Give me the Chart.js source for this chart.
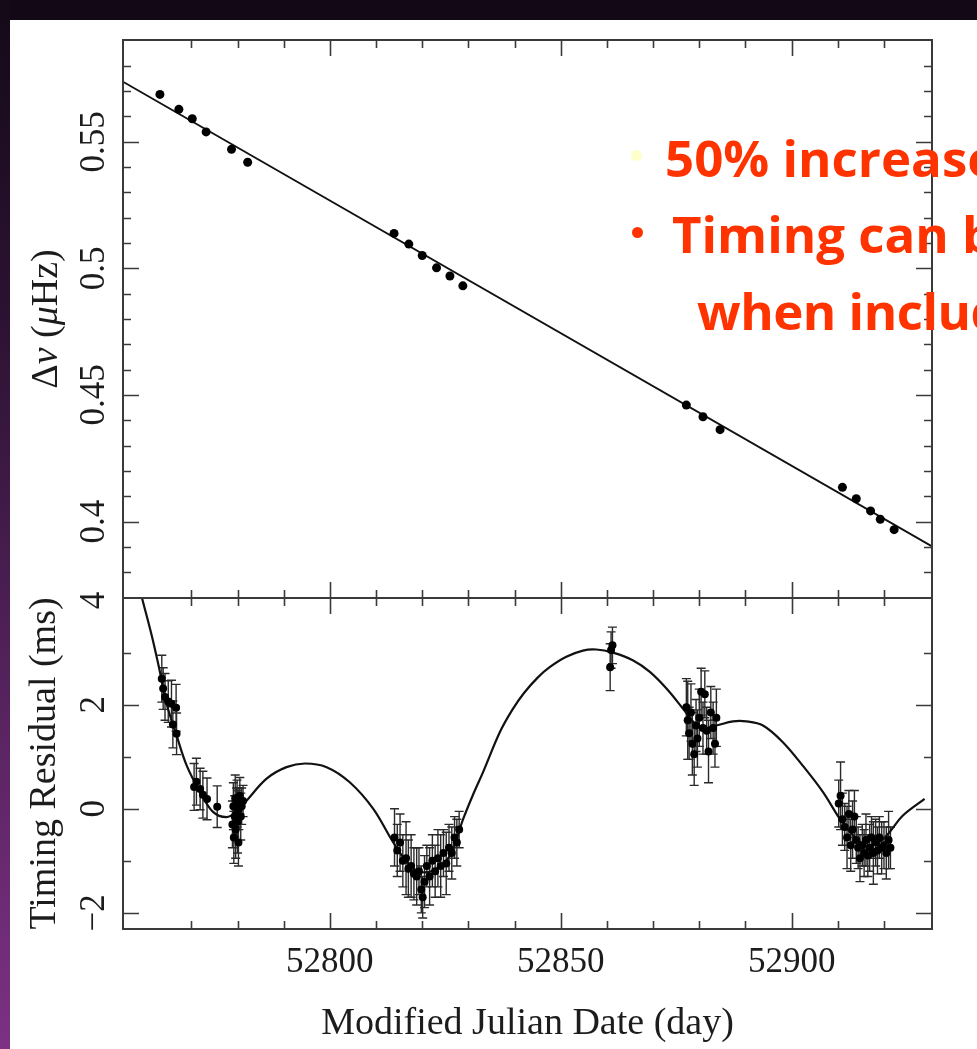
<!DOCTYPE html>
<html>
<head>
<meta charset="utf-8">
<script src="https://cdn.jsdelivr.net/npm/chart.js@4.4.1/dist/chart.umd.min.js"></script>
<style>
html,body{margin:0;padding:0;background:#130916;width:977px;height:1049px;overflow:hidden;}
#strip{position:absolute;left:0;top:0;width:10px;height:1049px;background:linear-gradient(#140a18 0%,#2c1232 30%,#4c1f54 58%,#7c3183 100%);}
#paper{position:absolute;left:10px;top:20px;width:967px;height:1029px;background:#ffffff;}
.cw{position:absolute;left:0;top:0;width:977px;height:1049px;}
.note{position:absolute;font-family:'Open Sans',sans-serif;font-weight:700;font-size:51px;color:#ff3300;white-space:nowrap;line-height:51px;}
.dot{position:absolute;width:11px;height:11px;border-radius:50%;}
</style>
</head>
<body>
<div id="strip"></div>
<div id="paper"></div>
<div class="cw"><canvas id="bottomChart"></canvas></div>
<div class="cw"><canvas id="topChart"></canvas></div>
<div class="dot" style="left:631px;top:150px;background:#ffffcc;"></div>
<div class="note" style="left:665px;top:132px;">50% increase</div>
<div class="dot" style="left:632px;top:227px;background:#ff3300;"></div>
<div class="note" style="left:672px;top:208px;">Timing can be</div>
<div class="note" style="left:697px;top:285px;letter-spacing:-0.5px;">when including</div>
<script>
// ---------- data ----------
const dnuMJD = [52763.2, 52767.3, 52770.2, 52773.2, 52778.7, 52782.2, 52813.9, 52817.1, 52820.0, 52823.1, 52826.0, 52828.8, 52877.2, 52880.8, 52884.5, 52911.0, 52914.0, 52917.1, 52919.2, 52922.2];
const dnuValues = [0.5687, 0.5628, 0.5591, 0.5539, 0.5470, 0.5419, 0.5138, 0.5096, 0.5051, 0.5002, 0.4970, 0.4931, 0.4460, 0.4414, 0.4363, 0.4135, 0.4090, 0.4042, 0.4009, 0.3968];
const fitMJD = [52755.2, 52930.4];
const fitValues = [0.5737, 0.3902];

const resMJD = [
  52763.6, 52763.9, 52764.3, 52765.0, 52765.7, 52766.7, 52766.0, 52766.8,
  52770.6, 52771.1, 52771.9, 52772.5, 52773.4, 52775.6,
  52778.9, 52779.1, 52779.2, 52779.4, 52779.5, 52779.6, 52779.8, 52779.9, 52780.0, 52780.2, 52780.3, 52780.5, 52780.7, 52780.9, 52781.2,
  52814.0, 52814.6, 52815.2, 52815.8, 52816.5, 52817.0, 52817.6, 52818.2, 52818.8, 52819.3, 52819.8, 52820.1, 52820.5, 52821.0, 52821.6, 52822.2, 52822.8, 52823.4, 52824.0, 52824.6, 52825.2, 52825.8, 52826.4, 52827.0, 52827.5, 52828.0,
  52860.7, 52860.9, 52861.2,
  52877.2, 52877.5, 52877.8, 52878.2, 52878.5, 52878.9, 52879.3, 52879.6, 52880.0, 52880.4, 52880.8, 52881.2, 52881.6, 52882.0, 52882.5, 52883.0, 52883.4, 52883.7,
  52910.2, 52910.6, 52911.0, 52911.5, 52912.0, 52912.4, 52912.8, 52913.2, 52913.6, 52914.0, 52914.4, 52914.8, 52915.3, 52915.7, 52916.1, 52916.5, 52916.9, 52917.3, 52917.7, 52918.2, 52918.6, 52919.0, 52919.5, 52920.0, 52920.5, 52921.0, 52921.4
];
const resValues = [
  2.50, 2.31, 2.15, 2.06, 2.02, 1.94, 1.62, 1.44,
  0.42, 0.52, 0.38, 0.27, 0.19, 0.04,
  -0.30, 0.05, -0.55, -0.15, 0.20, -0.40, -0.10, 0.10, -0.25, -0.65, 0.00, 0.25, -0.15, 0.05, 0.15,
  -0.55, -0.80, -0.65, -1.00, -0.95, -1.15, -1.10, -1.25, -1.30, -1.20, -1.55, -1.70, -1.40, -1.10, -1.30, -1.00, -1.20, -0.95, -1.10, -0.85, -1.05, -0.75, -0.85, -0.55, -0.65, -0.40,
  2.72, 3.05, 3.14,
  1.95, 1.70, 1.45, 1.85, 1.25, 1.05, 1.60, 1.35, 1.75, 2.25, 1.55, 2.20, 1.50, 1.10, 1.85, 1.55, 1.25, 1.75,
  0.10, 0.25, -0.20, -0.35, -0.55, -0.10, -0.70, -0.40, -0.15, -0.60, -0.75, -0.95, -0.70, -0.85, -0.60, -0.90, -0.75, -0.55, -0.85, -0.65, -0.80, -0.55, -0.75, -0.70, -0.85, -0.60, -0.75
];
const resErrors = [
  0.45, 0.40, 0.45, 0.40, 0.45, 0.45, 0.45, 0.40,
  0.45, 0.45, 0.40, 0.45, 0.40, 0.40,
  0.45, 0.45, 0.50, 0.40, 0.45, 0.55, 0.50, 0.45, 0.60, 0.45, 0.40, 0.35, 0.45, 0.35, 0.30,
  0.55, 0.50, 0.55, 0.50, 0.70, 0.55, 0.60, 0.50, 0.55, 0.45, 0.45, 0.40, 0.50, 0.40, 0.55, 0.50, 0.50, 0.55, 0.60, 0.45, 0.60, 0.45, 0.50, 0.40, 0.45, 0.35,
  0.45, 0.35, 0.35,
  0.55, 0.75, 0.50, 0.55, 0.60, 0.60, 0.50, 0.55, 0.55, 0.45, 0.50, 0.45, 0.45, 0.60, 0.50, 0.50, 0.45, 0.55,
  0.45, 0.65, 0.50, 0.45, 0.60, 0.45, 0.50, 0.55, 0.50, 0.45, 0.40, 0.45, 0.40, 0.45, 0.50, 0.40, 0.45, 0.40, 0.60, 0.45, 0.45, 0.40, 0.50, 0.45, 0.50, 0.55, 0.40
];

const modelMJD = [52757.5, 52759.2, 52761.5, 52763.2, 52764.7, 52766.8, 52769.0, 52771.9, 52774.7, 52777.6, 52779.8, 52782.0, 52786.3, 52790.6, 52794.6, 52799.3, 52804.3, 52809.4, 52813.7, 52817.3, 52820.2, 52823.1, 52826.0, 52828.9, 52831.0, 52833.2, 52836.8, 52839.5, 52842.0, 52845.0, 52847.6, 52851.2, 52854.8, 52857.7, 52861.3, 52865.7, 52869.3, 52872.9, 52876.5, 52878.7, 52880.8, 52883.7, 52887.3, 52890.2, 52893.8, 52898.1, 52902.4, 52906.8, 52910.4, 52913.3, 52916.2, 52919.0, 52921.2, 52924.1, 52928.8];
const modelValues = [4.70, 4.09, 3.30, 2.63, 2.00, 1.41, 0.83, 0.32, -0.06, -0.16, -0.06, 0.16, 0.58, 0.80, 0.87, 0.80, 0.51, 0.00, -0.64, -1.09, -1.22, -1.15, -0.90, -0.19, 0.27, 0.71, 1.47, 1.90, 2.22, 2.52, 2.72, 2.92, 3.04, 3.06, 3.00, 2.85, 2.63, 2.31, 1.92, 1.67, 1.55, 1.60, 1.68, 1.68, 1.60, 1.28, 0.83, 0.32, -0.19, -0.51, -0.71, -0.64, -0.45, -0.13, 0.19];

const xTickValues = [52800, 52850, 52900];
const xTickLabels = ['52800', '52850', '52900'];
const topYTickValues = [0.4, 0.45, 0.5, 0.55];
const topYTickLabels = ['0.4', '0.45', '0.5', '0.55'];
const botYTickValues = [-2, 0, 2, 4];
const botYTickLabels = ['\u22122', '0', '2', '4'];

// ---------- helpers ----------
const INK = '#1c1c1c';
const SERIF = "'Liberation Serif', 'DejaVu Serif', serif";
const xMin = 52755.2, xMax = 52930.4;

function isMult(v, step) {
  const r = v / step;
  return Math.abs(r - Math.round(r)) < 1e-6;
}

function framePlugin(cfg) {
  return {
    id: 'frame_' + cfg.name,
    beforeDatasetsDraw(chart) {
      const {ctx, chartArea: a, scales: {x, y}} = chart;
      chart.data.datasets.forEach(ds => {
        if (!ds.errorBars) return;
        ctx.save();
        ctx.beginPath();
        ctx.rect(a.left, a.top, a.right - a.left, a.bottom - a.top);
        ctx.clip();
        ctx.strokeStyle = '#2a2a2a';
        ctx.lineWidth = 1.4;
        ds.data.forEach((p, i) => {
          const e = ds.errorBars[i];
          const px = x.getPixelForValue(p.x);
          const y1 = y.getPixelForValue(p.y + e);
          const y2 = y.getPixelForValue(p.y - e);
          ctx.beginPath();
          ctx.moveTo(px, y1); ctx.lineTo(px, y2);
          ctx.moveTo(px - 4.5, y1); ctx.lineTo(px + 4.5, y1);
          ctx.moveTo(px - 4.5, y2); ctx.lineTo(px + 4.5, y2);
          ctx.stroke();
        });
        ctx.restore();
      });
    },
    afterDraw(chart) {
      const {ctx, chartArea: a, scales: {x, y}} = chart;
      ctx.save();
      ctx.strokeStyle = '#3a3a3a';
      ctx.lineWidth = 2;
      ctx.strokeRect(a.left, a.top, a.right - a.left, a.bottom - a.top);
      ctx.lineWidth = 1.6;
      ctx.beginPath();
      x.ticks.forEach(t => {
        const v = t.value;
        if (!isMult(v, 10)) return;
        const len = isMult(v, 50) ? 16 : 8;
        const px = Math.round(x.getPixelForValue(v)) + 0.5;
        ctx.moveTo(px, a.top); ctx.lineTo(px, a.top + len);
        ctx.moveTo(px, a.bottom); ctx.lineTo(px, a.bottom - len);
      });
      y.ticks.forEach(t => {
        const v = t.value;
        if (!isMult(v, cfg.yMinor)) return;
        const len = isMult(v, cfg.yMajor) ? 16 : 8;
        const py = Math.round(y.getPixelForValue(v)) + 0.5;
        ctx.moveTo(a.left, py); ctx.lineTo(a.left + len, py);
        ctx.moveTo(a.right, py); ctx.lineTo(a.right - len, py);
      });
      ctx.stroke();
      // rotated y tick labels
      ctx.fillStyle = INK;
      ctx.font = '35px ' + SERIF;
      ctx.textAlign = 'center';
      ctx.textBaseline = 'alphabetic';
      cfg.yValues.forEach((v, i) => {
        const py = y.getPixelForValue(v);
        ctx.save();
        ctx.translate(104, py);
        ctx.rotate(-Math.PI / 2);
        ctx.fillText(cfg.yLabels[i], 0, 0);
        ctx.restore();
      });
      // rotated axis title with italic greek parts
      if (cfg.titleParts) {
        const midY = (a.top + a.bottom) / 2;
        const parts = cfg.titleParts.map(p => ({text: p.text, font: (p.italic ? 'italic ' : '') + '38px ' + SERIF}));
        let total = 0;
        parts.forEach(p => { ctx.font = p.font; p.w = ctx.measureText(p.text).width; total += p.w; });
        ctx.save();
        ctx.translate(57, midY);
        ctx.rotate(-Math.PI / 2);
        ctx.textAlign = 'left';
        let cx = -total / 2;
        parts.forEach(p => { ctx.font = p.font; ctx.fillText(p.text, cx, 0); cx += p.w; });
        ctx.restore();
      }
      ctx.restore();
    }
  };
}

Chart.defaults.font.family = SERIF;
Chart.defaults.color = INK;

// ---------- top panel ----------
new Chart(document.getElementById('topChart'), {
  type: 'scatter',
  data: {
    datasets: [
      {
        data: dnuMJD.map((m, i) => ({x: m, y: dnuValues[i]})),
        backgroundColor: '#000', borderWidth: 0, pointRadius: 4.5
      },
      {
        data: fitMJD.map((m, i) => ({x: m, y: fitValues[i]})),
        showLine: true, borderColor: '#111', borderWidth: 1.8, pointRadius: 0
      }
    ]
  },
  options: {
    responsive: true, maintainAspectRatio: false, animation: false,
    layout: {autoPadding: false, padding: {left: 10, right: 45, top: 40, bottom: 451}},
    plugins: {legend: {display: false}, tooltip: {enabled: false}},
    scales: {
      x: {
        type: 'linear', min: xMin, max: xMax,
        afterFit(s) { s.height = 0; },
        grid: {display: false, drawTicks: false}, border: {display: false},
        ticks: {display: false, stepSize: 10}
      },
      y: {
        type: 'linear', min: 0.3698, max: 0.5902,
        afterFit(s) { s.width = 113; },
        grid: {display: false, drawTicks: false}, border: {display: false},
        ticks: {display: false, stepSize: 0.01},
        title: {display: false}
      }
    }
  },
  plugins: [framePlugin({
    name: 'top', yMinor: 0.01, yMajor: 0.05, yValues: topYTickValues, yLabels: topYTickLabels,
    titleParts: [{text: '\u0394'}, {text: '\u03bd', italic: true}, {text: ' ('}, {text: '\u03bc', italic: true}, {text: 'Hz)'}]
  })]
});

// ---------- bottom panel ----------
new Chart(document.getElementById('bottomChart'), {
  type: 'scatter',
  data: {
    datasets: [
      {
        data: resMJD.map((m, i) => ({x: m, y: resValues[i]})),
        errorBars: resErrors,
        backgroundColor: '#000', borderWidth: 0, pointRadius: 4
      },
      {
        data: modelMJD.map((m, i) => ({x: m, y: modelValues[i]})),
        showLine: true, borderColor: '#111', borderWidth: 2.2, pointRadius: 0,
        tension: 0.35
      }
    ]
  },
  options: {
    responsive: true, maintainAspectRatio: false, animation: false,
    layout: {autoPadding: false, padding: {left: 10, right: 45, top: 598, bottom: 0}},
    plugins: {legend: {display: false}, tooltip: {enabled: false}},
    scales: {
      x: {
        type: 'linear', min: xMin, max: xMax,
        afterFit(s) { s.height = 120; },
        grid: {display: false, drawTicks: false}, border: {display: false},
        ticks: {
          stepSize: 10, autoSkip: false, maxRotation: 0, minRotation: 0, padding: 13,
          color: INK, font: {family: SERIF, size: 35},
          callback(v) { const i = xTickValues.indexOf(v); return i >= 0 ? xTickLabels[i] : ''; }
        },
        title: {display: true, text: 'Modified Julian Date (day)', color: INK, font: {family: SERIF, size: 38}, padding: {top: 0, bottom: 2}}
      },
      y: {
        type: 'linear', min: -2.31, max: 4.05,
        afterFit(s) { s.width = 113; },
        grid: {display: false, drawTicks: false}, border: {display: false},
        ticks: {display: false, stepSize: 1},
        title: {display: true, text: 'Timing Residual (ms)', color: INK, font: {family: SERIF, size: 38}, padding: {top: 12, bottom: 0}}
      }
    }
  },
  plugins: [framePlugin({name: 'bottom', yMinor: 1, yMajor: 2, yValues: botYTickValues, yLabels: botYTickLabels})]
});
</script>
</body>
</html>
